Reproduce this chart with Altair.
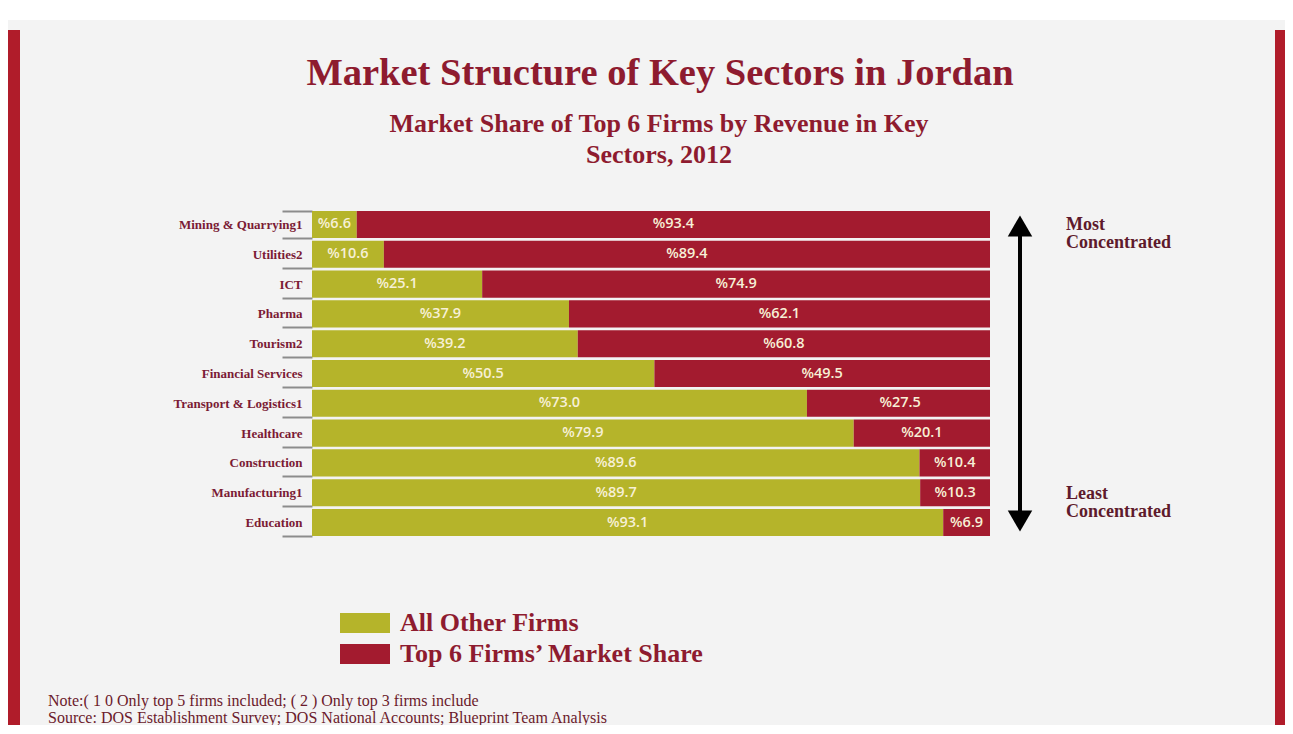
import altair as alt
import pandas as pd

# ---- data -------------------------------------------------------------
SECTORS = ["Mining & Quarrying1", "Utilities2", "ICT", "Pharma", "Tourism2",
           "Financial Services", "Transport & Logistics1", "Healthcare",
           "Construction", "Manufacturing1", "Education"]
OTHER_FIRMS = [6.6, 10.6, 25.1, 37.9, 39.2, 50.5, 73.0, 79.9, 89.6, 89.7, 93.1]
TOP6_FIRMS = [93.4, 89.4, 74.9, 62.1, 60.8, 49.5, 27.5, 20.1, 10.4, 10.3, 6.9]
SERIES = ["All Other Firms", "Top 6 Firms\u2019 Market Share"]
COLORS = ["#b5b42a", "#a31b2f"]

TITLE = "Market Structure of Key Sectors in Jordan"
SUBTITLE = ["Market Share of Top 6 Firms by Revenue in Key", "Sectors, 2012"]
TOP_NOTE = "Most\nConcentrated"
BOTTOM_NOTE = "Least\nConcentrated"
NOTES = ["Note:( 1 0 Only top 5 firms included; ( 2 ) Only top 3 firms include",
         "Source: DOS Establishment Survey; DOS National Accounts; Blueprint Team Analysis"]

rows = []
for i, s in enumerate(SECTORS):
    rows.append({"sector": s, "series": SERIES[0], "value": OTHER_FIRMS[i], "order": 0})
    rows.append({"sector": s, "series": SERIES[1], "value": TOP6_FIRMS[i], "order": 1})
df = pd.DataFrame(rows)

TITLE_RED = "#8e1b2f"
LABEL_RED = "#7b1b35"
SERIF = "Liberation Serif"

W, H = 678, 327

yenc = alt.Y("sector:N", sort=SECTORS,
             scale=alt.Scale(paddingInner=0.09, paddingOuter=0.03),
             axis=alt.Axis(title=None, domain=False, tickBand="extent",
                           tickSize=30, tickColor="#8c8c8c", tickWidth=2,
                           labelFont=SERIF, labelFontWeight="bold",
                           labelFontSize=13, labelColor=LABEL_RED,
                           labelPadding=-20))

base = alt.Chart(df).transform_stack(
    stack="value", groupby=["sector"], as_=["x0", "x1"],
    sort=[alt.SortField("order", order="ascending")]
).transform_calculate(
    mid="(datum.x0 + datum.x1) / 2",
    label="'%' + format(datum.value, '.1f')"
)

bars = base.mark_bar(clip=True).encode(
    x=alt.X("x0:Q", scale=alt.Scale(domain=[0, 100], nice=False), axis=None),
    x2="x1:Q",
    y=yenc,
    color=alt.Color("series:N", scale=alt.Scale(domain=SERIES, range=COLORS),
                    legend=alt.Legend(title=None, orient="none", legendX=28,
                                      legendY=402,
                                      symbolType="M-1,-0.4H1V0.4H-1Z",
                                      symbolSize=2500, symbolStrokeWidth=0,
                                      symbolOpacity=1, clipHeight=22,
                                      rowPadding=5, labelOffset=10,
                                      labelFont=SERIF, labelFontWeight="bold",
                                      labelFontSize=26, labelColor=TITLE_RED,
                                      labelLimit=700)),
)

labels = base.mark_text(font="Open Sans", fontSize=14.5, fontWeight=600,
                        color="#f7f0d6", baseline="middle").encode(
    x=alt.X("mid:Q", scale=alt.Scale(domain=[0, 100], nice=False), axis=None),
    y=alt.Y("sector:N", sort=SECTORS),
    text="label:N",
)


def txt(s, x, y, size, color, weight="bold", align="center", font=SERIF,
        line_height=None):
    kw = {}
    if line_height is not None:
        kw = {"lineBreak": "\n", "lineHeight": line_height}
    return alt.Chart(pd.DataFrame({"t": [s]})).mark_text(
        font=font, fontSize=size, fontWeight=weight, color=color,
        align=align, baseline="middle", **kw).encode(
        x=alt.value(x), y=alt.value(y), text="t:N")


one = pd.DataFrame({"k": [0]})

top_white = alt.Chart(one).mark_rect(color="white").encode(
    x=alt.value(-304), x2=alt.value(973), y=alt.value(-202), y2=alt.value(-190))
left_bar = alt.Chart(one).mark_rect(color="#b01c2a").encode(
    x=alt.value(-304), x2=alt.value(-292), y=alt.value(-180), y2=alt.value(520))
right_bar = alt.Chart(one).mark_rect(color="#b01c2a").encode(
    x=alt.value(963), x2=alt.value(978), y=alt.value(-180), y2=alt.value(520))

arrow_line = alt.Chart(one).mark_rule(color="black", strokeWidth=4).encode(
    x=alt.value(708), y=alt.value(18), y2=alt.value(308))
arrow_up = alt.Chart(one).mark_point(shape="triangle-up", filled=True,
                                     color="black", size=600, opacity=1).encode(
    x=alt.value(708), y=alt.value(16))
arrow_down = alt.Chart(one).mark_point(shape="triangle-down", filled=True,
                                       color="black", size=600, opacity=1).encode(
    x=alt.value(708), y=alt.value(311))

ANN = "#5e1a2c"
layers = [
    top_white, left_bar, right_bar,
    bars, labels,
    txt(TITLE, 348, -137, 38.5, TITLE_RED),
    txt(SUBTITLE[0], 347, -86, 26, TITLE_RED),
    txt(SUBTITLE[1], 347, -55, 26, TITLE_RED),
    arrow_line, arrow_up, arrow_down,
    txt(TOP_NOTE, 754, 15, 18, ANN, align="left", line_height=18),
    txt(BOTTOM_NOTE, 754, 284, 18, ANN, align="left", line_height=18),
    txt(NOTES[0], -264, 491, 16, "#6b1a2b", weight="normal", align="left"),
    txt(NOTES[1], -264, 508, 16, "#6b1a2b", weight="normal", align="left"),
]

chart = alt.layer(*layers).properties(
    width=W, height=H,
    autosize=alt.AutoSizeParams(type="none"),
    padding={"left": 304, "top": 202, "right": 295, "bottom": 188},
    background="#f3f3f3",
).configure_view(stroke=None)

chart.save("out.html", embed_options={"renderer": "svg", "actions": False})
